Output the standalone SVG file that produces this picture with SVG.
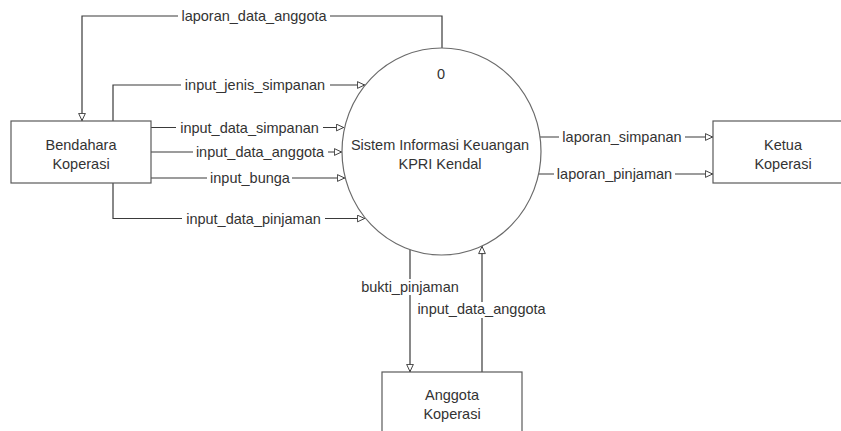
<svg xmlns="http://www.w3.org/2000/svg" width="841" height="431" viewBox="0 0 841 431">
<style>
.conn{fill:none;stroke:#3a3a3a;stroke-width:1.2}
.box{fill:#fff;stroke:#5a5a5a;stroke-width:1.2}
.proc{fill:#fff;stroke:#6a6a6a;stroke-width:1.2}
.bg{fill:#fff;stroke:none}
.t{font-family:"Liberation Sans",Arial,sans-serif;font-size:14.5px;fill:#333;text-anchor:middle}
</style>
<defs>
<marker id="arr" viewBox="0 0 10 10" refX="10" refY="5" markerWidth="9" markerHeight="8" markerUnits="userSpaceOnUse" orient="auto">
<path d="M0.5,0.8 L9.5,5 L0.5,9.2 z" fill="#fff" stroke="#3a3a3a" stroke-width="1.2"/>
</marker>
</defs>
<rect width="841" height="431" fill="#fff"/>
<g id="connectors">
<path class="conn" d="M442,48 V16 H82 V121" marker-end="url(#arr)"/>
<path class="conn" d="M113,121 V85 H365" marker-end="url(#arr)"/>
<path class="conn" d="M151,127.5 H344" marker-end="url(#arr)"/>
<path class="conn" d="M151,152 H342" marker-end="url(#arr)"/>
<path class="conn" d="M151,178 H345" marker-end="url(#arr)"/>
<path class="conn" d="M113,183 V218.5 H365" marker-end="url(#arr)"/>
<path class="conn" d="M540,137 H713" marker-end="url(#arr)"/>
<path class="conn" d="M539,174 H713" marker-end="url(#arr)"/>
<path class="conn" d="M410,250 V372" marker-end="url(#arr)"/>
<path class="conn" d="M482,372 V246" marker-end="url(#arr)"/>
<rect class="bg" x="178" y="8" width="152" height="16"/>
<rect class="bg" x="181" y="77" width="149" height="16"/>
<rect class="bg" x="176" y="119.5" width="147" height="16"/>
<rect class="bg" x="193" y="144" width="135" height="16"/>
<rect class="bg" x="207" y="170" width="85" height="16"/>
<rect class="bg" x="182" y="210.5" width="143" height="16"/>
<rect class="bg" x="559" y="129" width="126" height="16"/>
<rect class="bg" x="554" y="166" width="121" height="16"/>
<rect class="bg" x="359" y="279" width="102" height="16"/>
<rect class="bg" x="414" y="302" width="135" height="16"/>
<text class="t" x="254" y="21">laporan_data_anggota</text>
<text class="t" x="255" y="90">input_jenis_simpanan</text>
<text class="t" x="249.5" y="132.5">input_data_simpanan</text>
<text class="t" x="260" y="157">input_data_anggota</text>
<text class="t" x="250" y="183">input_bunga</text>
<text class="t" x="253.5" y="223.5">input_data_pinjaman</text>
<text class="t" x="622" y="142">laporan_simpanan</text>
<text class="t" x="614.5" y="179">laporan_pinjaman</text>
<text class="t" x="410" y="291.5">bukti_pinjaman</text>
<text class="t" x="481.5" y="314">input_data_anggota</text>
</g>
<g id="process0">
<ellipse class="proc" cx="441.5" cy="151.5" rx="99.5" ry="103.5"/>
<text class="t" x="441" y="79">0</text>
<text class="t" x="440" y="149.5">Sistem Informasi Keuangan</text>
<text class="t" x="440" y="168.5">KPRI Kendal</text>
</g>
<g id="bendahara">
<rect class="box" x="11" y="121" width="140" height="62"/>
<text class="t" x="81" y="149.5">Bendahara</text>
<text class="t" x="81" y="168.5">Koperasi</text>
</g>
<g id="ketua">
<rect class="box" x="713" y="121" width="140" height="62"/>
<text class="t" x="783" y="149.5">Ketua</text>
<text class="t" x="783" y="168.5">Koperasi</text>
</g>
<g id="anggota">
<rect class="box" x="382" y="372" width="140" height="62"/>
<text class="t" x="452" y="400">Anggota</text>
<text class="t" x="452" y="418.5">Koperasi</text>
</g>
</svg>
